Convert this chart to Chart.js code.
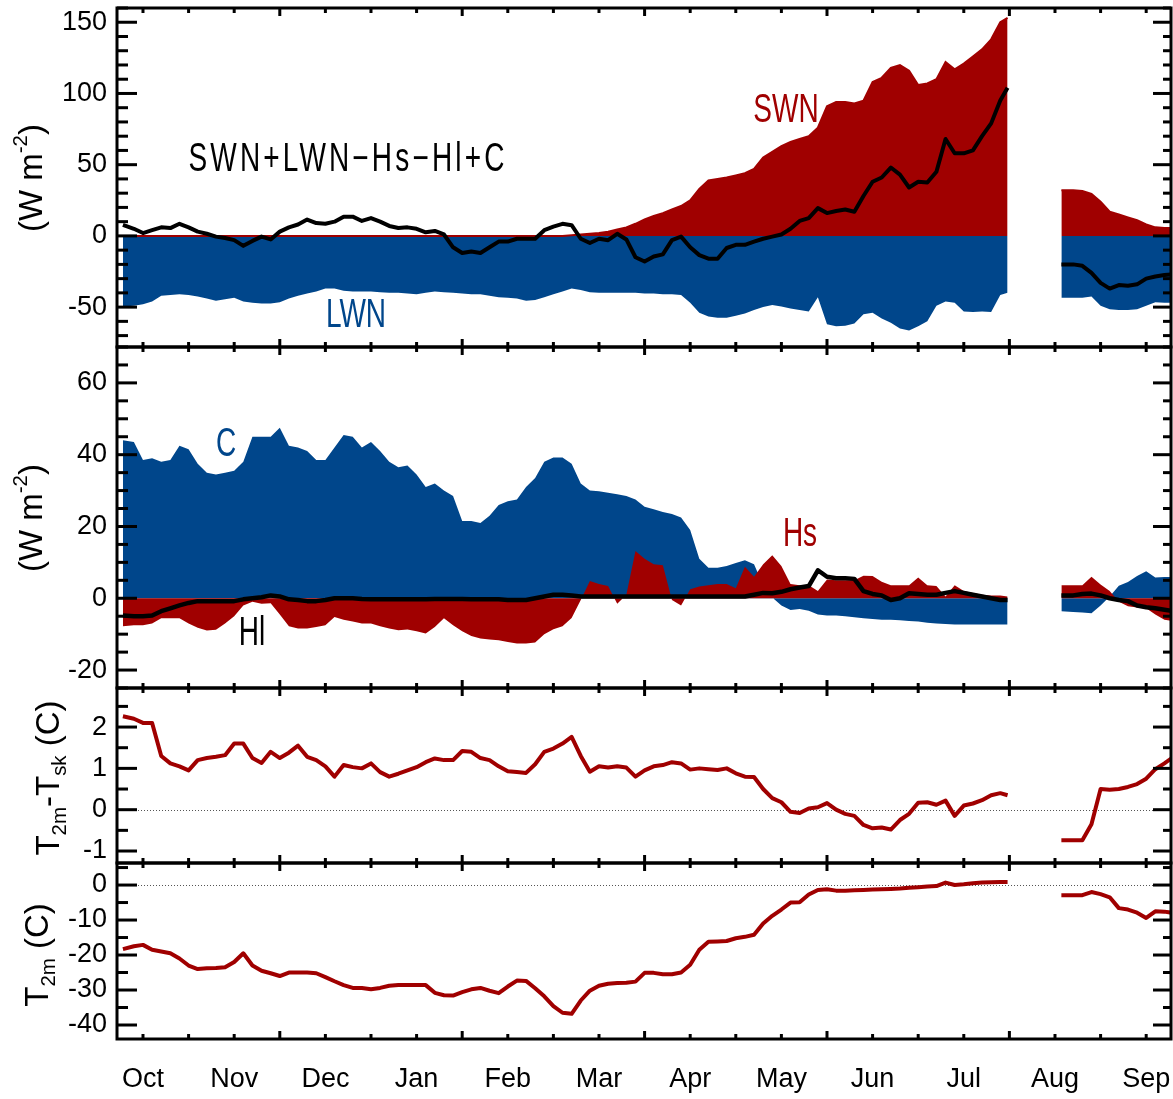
<!DOCTYPE html>
<html>
<head>
<meta charset="utf-8">
<script src="https://cdn.jsdelivr.net/npm/chart.js@4.4.1/dist/chart.umd.min.js"></script>
<style>
body { margin: 0; background: #fff; }
#wrap { position: relative; width: 1173px; height: 1099px; overflow: hidden; background: #fff; }
.panel { position: absolute; left: 0; width: 1173px; }
.lbl { position: absolute; font-family: 'Liberation Sans', Arial, sans-serif; font-size: 40px; line-height: 1; white-space: nowrap; transform: translate(-50%, -50%) scaleX(0.7); }
.ytitle { position: absolute; font-family: 'Liberation Sans', Arial, sans-serif; font-size: 33px; line-height: 1; white-space: nowrap; transform: translate(-50%, -50%) rotate(-90deg); }
.ytitle sup { font-size: 62%; vertical-align: 0; position: relative; top: -0.75em; line-height: 0; }
.ytitle sub { font-size: 62%; vertical-align: 0; position: relative; top: 0.35em; line-height: 0; }
</style>
</head>
<body>
<div id="wrap">
  <div class="panel" style="top:0px;height:352px"><canvas id="c1" width="1173" height="352"></canvas></div>
  <div class="panel" style="top:343px;height:349px"><canvas id="c2" width="1173" height="349"></canvas></div>
  <div class="panel" style="top:684px;height:183px"><canvas id="c3" width="1173" height="183"></canvas></div>
  <div class="panel" style="top:859px;height:240px"><canvas id="c4" width="1173" height="240"></canvas></div>

  <div class="lbl" style="left:348px;top:157px;color:#000;letter-spacing:4.5px">SWN+LWN−Hs−Hl+C</div>
  <div class="lbl" style="left:786px;top:108px;color:#a00000">SWN</div>
  <div class="lbl" style="left:356px;top:313px;color:#00468b">LWN</div>
  <div class="lbl" style="left:226px;top:442px;color:#00468b">C</div>
  <div class="lbl" style="left:800px;top:532px;color:#a00000">Hs</div>
  <div class="lbl" style="left:252px;top:631px;color:#000">Hl</div>

  <div class="ytitle" style="left:30px;top:178px">(W m<sup>-2</sup>)</div>
  <div class="ytitle" style="left:30px;top:518px">(W m<sup>-2</sup>)</div>
  <div class="ytitle" style="left:47px;top:778px">T<sub>2m</sub>-T<sub>sk</sub> (C)</div>
  <div class="ytitle" style="left:36px;top:955px">T<sub>2m</sub> (C)</div>
</div>

<script>
// month positions (0 = Oct, 1 = Nov, ...), 9.8 is the data gap
const monthPos = [-0.22, -0.1, 0, 0.1, 0.2, 0.3, 0.4, 0.5, 0.6, 0.7,
  0.8, 0.9, 1.0, 1.1, 1.2, 1.3, 1.4, 1.5, 1.6, 1.7,
  1.8, 1.9, 2.0, 2.1, 2.2, 2.3, 2.4, 2.5, 2.6, 2.7,
  2.8, 2.9, 3.0, 3.1, 3.2, 3.3, 3.4, 3.5, 3.6, 3.7,
  3.8, 3.9, 4.0, 4.1, 4.2, 4.3, 4.4, 4.5, 4.6, 4.7,
  4.8, 4.9, 5.0, 5.1, 5.2, 5.3, 5.4, 5.5, 5.6, 5.7,
  5.8, 5.9, 6.0, 6.1, 6.2, 6.3, 6.4, 6.5, 6.6, 6.7,
  6.8, 6.9, 7.0, 7.1, 7.2, 7.3, 7.4, 7.5, 7.6, 7.7,
  7.8, 7.9, 8.0, 8.1, 8.2, 8.3, 8.4, 8.5, 8.6, 8.7,
  8.8, 8.9, 9.0, 9.1, 9.2, 9.3, 9.4, 9.48, 9.8, 10.07,
  10.2, 10.3, 10.4, 10.5, 10.6, 10.7, 10.8, 10.9, 11.0, 11.1,
  11.2, 11.3];

const monthLabels = ['Oct', 'Nov', 'Dec', 'Jan', 'Feb', 'Mar', 'Apr', 'May', 'Jun', 'Jul', 'Aug', 'Sep'];

// panel 1 (W m-2)
const swn = [0, 0, 0, 0, 0, 0, 0, 0, 0, 0,
  0, 0, 0, 0, 0, 0, 0, 0, 0, 0,
  0, 0, 0, 0, 0, 0, 0, 0, 0, 0,
  0, 0, 0, 0, 0, 0, 0, 0, 0, 0,
  0, 0, 0, 0, 0, 0, 0, 0, 0, 0.5,
  1, 1.5, 2, 3, 4.5, 6, 8.5, 11.5, 14, 16,
  18.5, 21, 25, 33, 39, 40, 41, 42.5, 44, 47,
  55, 59, 63, 66, 68, 70, 76, 91, 94, 94,
  93, 95, 108, 111, 118, 120, 116, 106, 107, 110,
  122, 117, 121, 126, 131, 138, 150, 153, null, 32,
  32, 31.5, 29.5, 24, 17, 15, 13, 11, 8, 6,
  5.5, 5.5];

const lwn = [-49.5, -49, -48, -46, -42, -41.5, -41, -41.5, -42.5, -44,
  -45.5, -44.5, -43.5, -46, -47, -47.5, -47.5, -46.5, -44, -42,
  -40.5, -39, -37, -37, -38.5, -39, -39, -39, -39.5, -40,
  -40, -40.5, -41, -40, -39, -39.5, -40, -40.5, -41, -41,
  -42, -43, -43.5, -44, -45.5, -45, -43, -41, -39, -37,
  -38, -39.5, -40, -40, -40, -40, -40, -40.5, -40.5, -41,
  -41, -41.5, -47, -54, -56.5, -57.5, -57.5, -56, -54.5, -52,
  -50, -48.5, -49.5, -51, -52, -53, -43, -62, -63.5, -63,
  -61.5, -55, -54, -58, -61, -65, -66.5, -63.5, -60, -49,
  -46, -47, -53, -53.5, -53, -53.5, -41.5, -40, null, -43.5,
  -43.5, -43.5, -42.5, -49, -51.5, -52, -52, -51.5, -49, -46.5,
  -47, -47];

const netFlux = [7.7, 5, 2, 4, 6, 5.5, 8.5, 6, 3, 1.5,
  -0.5, -1.5, -3, -7, -3.5, -0.5, -2.5, 3, 6, 8,
  11.5, 9, 8.5, 10, 13.5, 13.5, 10.5, 12.5, 10, 7,
  5.6, 6, 5, 2.5, 3.5, 1, -8, -12, -11, -12,
  -8, -4, -4, -2, -2, -2, 4, 6.5, 8.5, 7.5,
  -2, -5, -2, -3, 1.5, -2.5, -15, -18, -14.5, -13,
  -3, -0.5, -8, -13.5, -16, -16, -8.5, -6.3, -6.3, -4,
  -2, -0.5, 1, 5, 10.5, 12.5, 19.5, 16, 17.5, 18.5,
  17, 28, 38, 41, 48, 43, 34, 38, 37.5, 45,
  68, 58, 58, 60, 70, 79, 95, 104, null, -20,
  -20, -21, -26, -33, -37, -34.5, -35, -34, -30, -28.5,
  -27.5, -27];

// panel 2 (W m-2)
const cond = [44, 43.5, 38.5, 39, 38, 38.5, 42.5, 41.5, 37.5, 35,
  34.5, 35, 35.5, 38, 45, 45, 45, 47.5, 42.5, 42,
  41, 38.5, 38.5, 42, 45.5, 45, 42, 43.5, 41, 38,
  36.5, 37, 34.5, 31, 32, 30, 28.5, 21.5, 21.5, 21,
  23, 26, 27, 27.5, 31, 33.5, 38, 39.2, 39.2, 37.5,
  32, 30, 29.8, 29.4, 29, 28.5, 27.5, 25.5, 24.8, 24,
  23.5, 22.5, 19, 11, 8.5, 8.5, 9, 9.8, 10.6, 9.5,
  3.6, 0.2, -2, -3.3, -3, -3.5, -4.5, -4.8, -4.8, -5,
  -5.3, -5.6, -5.8, -6, -6, -6.1, -6.3, -6.5, -6.8, -7,
  -7.2, -7.3, -7.3, -7.3, -7.3, -7.3, -7.3, -7.3, null, -3.6,
  -3.8, -4, -4.2, -2, 0.5, 3.5, 4.5, 6.2, 7.5, 5.8,
  5.9, 5.9];

const hs = [-7.8, -7.5, -7.5, -7, -5.6, -5.6, -5.6, -7, -8.2, -9,
  -8.8, -7, -5, -2, -1, -1.5, -1.4, -4.5, -7.8, -8.4,
  -8.4, -8, -7.5, -5.2, -6, -6.5, -7, -7, -7.8, -8.4,
  -8.9, -8.7, -9.2, -9.8, -8, -5.6, -7.5, -9.2, -10.5, -11.2,
  -11.5, -11.7, -12.2, -12.6, -12.6, -12.3, -10, -8.6, -7.8, -5.5,
  -0.5, 4.8, 4, 3.4, -1.5, 1, 13.2, 11, 9.5, 9.2,
  -0.5, -2, 2.5, 3.3, 3.6, 4, 4, 2.8, 8.8, 6,
  9.5, 12, 9, 4, 3.6, 3.6, 2, 5.2, 5, 5,
  5, 6.3, 6.2, 4.6, 3.6, 3.6, 3.6, 5.8, 3.6, 3.4,
  0.5, 3.6, 2, 1.5, 1, 0.8, 0.8, 0.5, null, 3.6,
  3.6, 3.6, 6, 3.8, 2, -1, -2.2, -2.6, -2.8, -4.5,
  -6, -6.4];

const hl = [-4.8, -5, -5, -4.8, -3.6, -2.8, -2, -1.3, -0.8, -0.8,
  -0.8, -0.8, -0.8, -0.3, 0, 0.3, 0.8, 0.5, -0.3, -0.5,
  -0.8, -0.8, -0.5, 0, 0, 0, -0.2, -0.3, -0.3, -0.3,
  -0.3, -0.3, -0.3, -0.3, -0.2, -0.2, -0.2, -0.2, -0.3, -0.3,
  -0.3, -0.3, -0.5, -0.5, -0.5, 0, 0.5, 1, 1, 0.8,
  0.5, 0.5, 0.5, 0.5, 0.5, 0.5, 0.5, 0.5, 0.5, 0.5,
  0.5, 0.5, 0.5, 0.5, 0.5, 0.5, 0.5, 0.5, 0.5, 1,
  1.5, 1.4, 1.8, 2.5, 3, 3.4, 7.8, 6, 5.6, 5.6,
  5.4, 2, 1.2, 0.8, -0.5, 0, 1.4, 1.2, 1, 1,
  1.5, 2, 1.5, 1, 0.5, 0, -0.5, -0.5, null, 0.8,
  0.8, 1.2, 1.3, 0.8, 0, -0.5, -0.8, -2, -2.5, -2.8,
  -3.2, -3.6];

// panel 3 (C)
const tDiff = [2.26, 2.2, 2.1, 2.1, 1.3, 1.12, 1.05, 0.95, 1.2, 1.25,
  1.28, 1.32, 1.6, 1.6, 1.25, 1.13, 1.4, 1.25, 1.38, 1.55,
  1.28, 1.2, 1.05, 0.8, 1.08, 1.03, 1.0, 1.12, 0.91, 0.8,
  0.87, 0.95, 1.03, 1.15, 1.24, 1.2, 1.2, 1.42, 1.4, 1.25,
  1.2, 1.05, 0.93, 0.91, 0.89, 1.1, 1.4, 1.48, 1.6, 1.76,
  1.3, 0.92, 1.05, 1.02, 1.05, 1.02, 0.8, 0.95, 1.05, 1.08,
  1.15, 1.12, 0.97, 1.0, 0.98, 0.96, 1.0, 0.88, 0.8, 0.79,
  0.5, 0.28, 0.18, -0.05, -0.08, 0.03, 0.06, 0.16, 0.0, -0.1,
  -0.15, -0.37, -0.45, -0.43, -0.48, -0.25, -0.1, 0.17, 0.18, 0.12,
  0.22, -0.15, 0.1, 0.15, 0.23, 0.35, 0.4, 0.35, null, -0.74,
  -0.74, -0.74, -0.35, 0.5, 0.48, 0.5, 0.55, 0.62, 0.75, 0.98,
  1.12, 1.28];

// panel 4 (C)
const t2m = [-18.3, -17.5, -17.1, -18.5, -19, -19.5, -21, -23, -24, -23.8,
  -23.7, -23.5, -22, -19.5, -23, -24.5, -25.2, -26, -25, -25,
  -25, -25.2, -26.3, -27.5, -28.6, -29.4, -29.4, -29.8, -29.4, -28.8,
  -28.6, -28.6, -28.6, -28.6, -30.8, -31.5, -31.6, -30.6, -29.8, -29.4,
  -30.2, -30.9, -29, -27.3, -27.4, -29.5, -31.8, -34.6, -36.5, -36.8,
  -33, -30.2, -28.8, -28.2, -28, -27.9, -27.6, -25.1, -25.1, -25.5,
  -25.5, -25, -22.8, -18.5, -16.2, -16.1, -16, -15.2, -14.8, -14.2,
  -11, -8.8, -7, -5, -4.9, -2.7, -1.4, -1.2, -1.6, -1.6,
  -1.5, -1.4, -1.3, -1.2, -1.1, -1.0, -0.8, -0.6, -0.4, -0.3,
  0.7, 0, 0.2, 0.5, 0.7, 0.8, 0.9, 0.9, null, -2.9,
  -2.9, -2.9, -2, -2.6, -3.5, -6.6, -7, -7.9, -9.4, -7.5,
  -7.6, -8];

const RED = '#a00000';
const BLUE = '#00468b';
const X_MIN = -0.285;
const X_MAX = 11.272;
const FONT = "'Liberation Sans', Arial, sans-serif";

function pts(series) {
  return monthPos.map((m, i) => ({ x: m, y: series[i] }));
}

function near(v, step) {
  return Math.abs(v / step - Math.round(v / step)) < 1e-6;
}

// frame with inward tick marks, like the original plot
const framePlugin = {
  id: 'frame',
  beforeDatasetsDraw(chart, args, opts) {
    if (!opts.zeroLine) return;
    const { ctx, chartArea: a, scales: { y } } = chart;
    const py = Math.round(y.getPixelForValue(0)) + 0.5;
    ctx.save();
    ctx.strokeStyle = '#555';
    ctx.lineWidth = 1;
    ctx.setLineDash([1, 2]);
    ctx.beginPath();
    ctx.moveTo(a.left, py);
    ctx.lineTo(a.right, py);
    ctx.stroke();
    ctx.restore();
  },
  afterDraw(chart, args, opts) {
    const { ctx, chartArea: a, scales: { x, y } } = chart;
    ctx.save();
    ctx.strokeStyle = '#000';
    ctx.lineWidth = 3;
    const seg = (x1, y1, x2, y2) => { ctx.beginPath(); ctx.moveTo(x1, y1); ctx.lineTo(x2, y2); ctx.stroke(); };

    y.ticks.forEach(t => {
      if (!near(t.value, opts.minor)) return;
      const major = near(t.value, opts.major);
      const py = y.getPixelForValue(t.value);
      seg(a.left, py, a.left + (major ? 20 : 11), py);
      seg(a.right, py, a.right - (major ? 18 : 8), py);
    });

    for (let k = Math.ceil(X_MIN * 2); k <= Math.floor(X_MAX * 2); k++) {
      const px = x.getPixelForValue(k / 2);
      const len = (k % 4 === 3) ? 8 : 5;
      seg(px, a.top, px, a.top + len);
      seg(px, a.bottom, px, a.bottom - len);
    }

    ctx.strokeRect(a.left, a.top, a.right - a.left, a.bottom - a.top);
    ctx.restore();
  }
};

function makeChart(id, cfg) {
  const isBottom = !!cfg.bottom;
  return new Chart(document.getElementById(id), {
    type: 'line',
    data: { datasets: cfg.datasets },
    options: {
      responsive: false,
      animation: false,
      events: [],
      layout: { padding: { top: cfg.padTop, bottom: cfg.padBottom, left: 0, right: 2 } },
      elements: { point: { radius: 0 }, line: { tension: 0 } },
      scales: {
        x: {
          type: 'linear',
          min: X_MIN,
          max: X_MAX,
          display: isBottom,
          grid: { display: false, drawTicks: false },
          border: { display: false },
          afterFit: s => {
            if (isBottom) s.height = 60;
            s.paddingLeft = 0;
            s.paddingRight = 0;
          },
          ticks: {
            stepSize: 0.5,
            includeBounds: false,
            autoSkip: false,
            maxRotation: 0,
            padding: 24,
            color: '#000',
            font: { family: FONT, size: 27 },
            callback: v => near(v, 1) && v > -0.5 && v < 11.5 ? monthLabels[Math.round(v)] : ''
          }
        },
        y: {
          min: cfg.yMin,
          max: cfg.yMax,
          grid: { display: false, drawTicks: false },
          border: { display: false },
          afterFit: s => {
            s.width = 117;
            s.paddingTop = 0;
            s.paddingBottom = 0;
          },
          ticks: {
            stepSize: cfg.minor,
            includeBounds: false,
            autoSkip: false,
            padding: 10,
            color: '#000',
            font: { family: FONT, size: 27 },
            callback: v => near(v, cfg.major) ? String(Math.round(v)) : ''
          }
        }
      },
      plugins: {
        legend: { display: false },
        tooltip: { enabled: false },
        frame: { minor: cfg.minor, major: cfg.major, zeroLine: !!cfg.zeroLine }
      }
    },
    plugins: [framePlugin]
  });
}

makeChart('c1', {
  padTop: 8, padBottom: 5, yMin: -78, yMax: 160, minor: 10, major: 50,
  datasets: [
    { data: pts(netFlux), borderColor: '#000', borderWidth: 4, fill: false, order: 0, borderJoinStyle: 'round' },
    { data: pts(swn), borderColor: RED, backgroundColor: RED, borderWidth: 2, fill: 'origin', order: 1 },
    { data: pts(lwn), borderColor: BLUE, backgroundColor: BLUE, borderWidth: 0, fill: 'origin', order: 2 }
  ]
});

makeChart('c2', {
  padTop: 4, padBottom: 4, yMin: -25, yMax: 70, minor: 5, major: 20,
  datasets: [
    { data: pts(hl), borderColor: '#000', borderWidth: 4.5, fill: false, order: 0, borderJoinStyle: 'round' },
    { data: pts(hs), borderColor: RED, backgroundColor: RED, borderWidth: 0, fill: 'origin', order: 1 },
    { data: pts(cond), borderColor: BLUE, backgroundColor: BLUE, borderWidth: 0, fill: 'origin', order: 2 }
  ]
});

makeChart('c3', {
  padTop: 4, padBottom: 4, yMin: -1.29, yMax: 2.945, minor: 0.5, major: 1, zeroLine: true,
  datasets: [
    { data: pts(tDiff), borderColor: RED, borderWidth: 4, fill: false, borderJoinStyle: 'round' }
  ]
});

makeChart('c4', {
  padTop: 4, padBottom: 0, yMin: -44, yMax: 6.3, minor: 5, major: 10, zeroLine: true, bottom: true,
  datasets: [
    { data: pts(t2m), borderColor: RED, borderWidth: 4, fill: false, borderJoinStyle: 'round' }
  ]
});
</script>
</body>
</html>
